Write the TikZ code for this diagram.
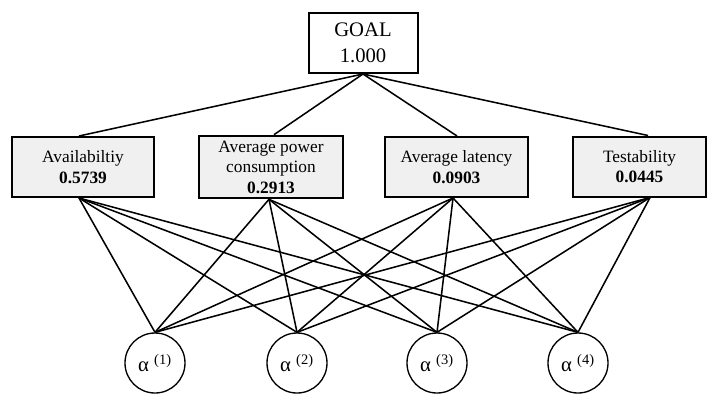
\documentclass[tikz,border=0pt]{standalone}
\usepackage{fontspec}
\setmainfont{Liberation Serif}
\definecolor{boxfill}{RGB}{240,240,240}
\begin{document}
\begin{tikzpicture}[x=0.75pt,y=-0.75pt,
 crit/.style={draw,line width=1.5pt,fill=boxfill,align=center,font=\fontsize{13}{15.3}\selectfont,inner sep=0pt,minimum height=45pt},
 goalbox/.style={draw,line width=1.5pt,fill=white,align=center,font=\fontsize{15.5}{19.5}\selectfont,minimum width=81.75pt,minimum height=45pt,inner sep=0pt},
 alt/.style={draw,circle,line width=1pt,minimum size=45pt,inner sep=0pt,font=\fontsize{15.5}{17}\selectfont},
 link/.style={line width=1.15pt}]
\useasboundingbox (0,0) rectangle (707,394);
\node[goalbox] (G) at (363,43) {GOAL\\1.000};
\node[crit,minimum width=106.5pt] (A) at (83,167) {Availabiltiy\\\textbf{0.5739}};
\node[crit,minimum width=108pt,minimum height=47pt] (P) at (271,167) {Average power\\consumption\\\textbf{0.2913}};
\node[crit,minimum width=107.25pt] (L) at (456.5,167) {Average latency\\\textbf{0.0903}};
\node[crit,minimum width=99.75pt] (T) at (639.5,166.5) {Testability\\\textbf{0.0445}};
\node[alt] (a1) at (155,363) {α \textsuperscript{(1)}};
\node[alt] (a2) at (297,363) {α \textsuperscript{(2)}};
\node[alt] (a3) at (437,363) {α \textsuperscript{(3)}};
\node[alt] (a4) at (578,363) {α \textsuperscript{(4)}};
% attachment points
\coordinate (At) at ([xshift=-3pt]A.north);
\coordinate (Pt) at ([xshift=2.25pt]P.north);
\coordinate (Lt) at ([xshift=0.4pt]L.north);
\coordinate (Tt) at ([xshift=6.4pt]T.north);
\coordinate (Ab) at ([xshift=-3pt]A.south);
\coordinate (Pb) at ([xshift=-1.5pt]P.south);
\coordinate (Lb) at ([xshift=-2.6pt]L.south);
\coordinate (Tb) at ([xshift=7.9pt]T.south);
\foreach \c in {At,Pt,Lt,Tt} \draw[link] (G.south) -- (\c);
\foreach \c in {Ab,Pb,Lb,Tb}
  \foreach \a in {a1,a2,a3,a4}
    \draw[link] (\c) -- (\a.north);
\end{tikzpicture}
\end{document}
